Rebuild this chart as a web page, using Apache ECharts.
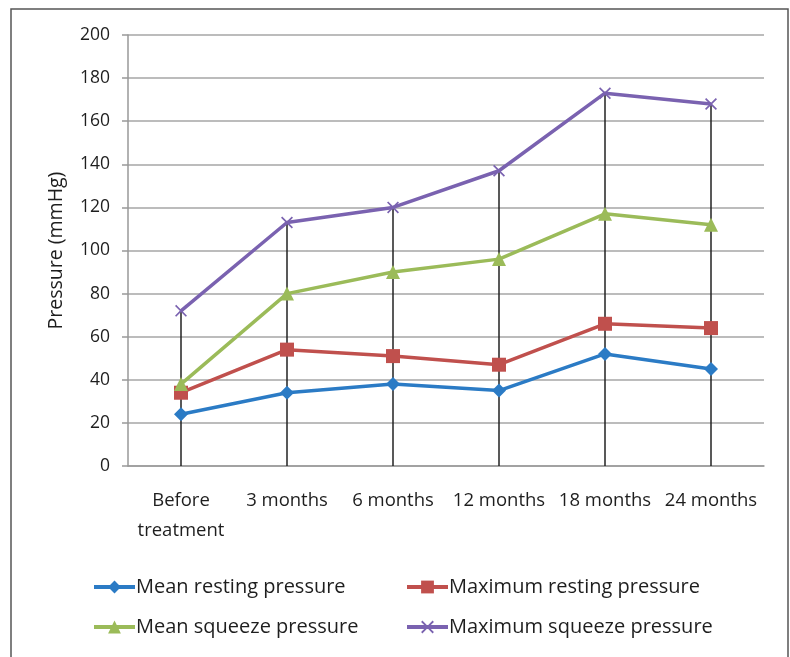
<!DOCTYPE html>
<html>
<head>
<meta charset="utf-8">
<script src="https://cdn.jsdelivr.net/npm/echarts@6/dist/echarts.min.js"></script>
<style>
  html, body { margin: 0; padding: 0; background: #fff; }
  #chart { width: 790px; height: 657px; }
</style>
</head>
<body>
<div id="chart"></div>
<script>
// time points
var categories = ['Before\ntreatment', '3 months', '6 months', '12 months', '18 months', '24 months'];

// pressures, mmHg
var meanResting = [24, 34, 38, 35, 52, 45];
var maxResting = [34, 54, 51, 47, 66, 64];
var meanSqueeze = [38, 80, 90, 96, 117, 112];
var maxSqueeze = [72, 113, 120, 137, 173, 168];

var yTicks = [0, 20, 40, 60, 80, 100, 120, 140, 160, 180, 200];

var font = '"Open Sans", "Noto Sans", sans-serif';
var crossPath = 'path://M0,1L1,0L5,4L9,0L10,1L6,5L10,9L9,10L5,6L1,10L0,9L4,5Z';

var chart = echarts.init(document.getElementById('chart'));

// vertical drop lines from max squeeze down to the axis
var dropLines = maxSqueeze.map(function (v, i) {
  return [{ coord: [i, 0] }, { coord: [i, v] }];
});

function mkSeries(name, data, color, symbol, size) {
  return {
    name: name,
    type: 'line',
    data: data,
    symbol: symbol,
    symbolSize: size,
    showSymbol: true,
    lineStyle: { color: color, width: 3.5 },
    itemStyle: { color: color, borderWidth: 0 },
    z: 3
  };
}

function mkLegend(name, left, top) {
  return {
    data: [name],
    left: left,
    top: top,
    padding: 0,
    itemWidth: 41,
    itemHeight: 16,
    itemGap: 0,
    lineStyle: { width: 4 },
    textStyle: { fontFamily: font, fontSize: 20, color: '#1e1e1e', padding: [0, 0, 0, -4] }
  };
}

var seriesMaxSq = mkSeries('Maximum squeeze pressure', maxSqueeze, '#7a62b0', crossPath, 12);
seriesMaxSq.markLine = {
  silent: true,
  symbol: 'none',
  label: { show: false },
  lineStyle: { color: '#222', width: 1.5, type: 'solid' },
  data: dropLines,
  z: 1
};

var option = {
  animation: false,
  backgroundColor: '#fff',
  graphic: [{
    type: 'rect',
    shape: { x: 11, y: 9, width: 777, height: 700 },
    style: { fill: 'none', stroke: '#555', lineWidth: 1.5 },
    silent: true
  }],
  grid: { left: 128, right: 26, top: 35, bottom: 191 },
  legend: [
    mkLegend('Mean resting pressure', 92, 577),
    mkLegend('Maximum resting pressure', 405, 577),
    mkLegend('Mean squeeze pressure', 92, 617),
    mkLegend('Maximum squeeze pressure', 405, 617)
  ],
  xAxis: {
    type: 'category',
    data: categories,
    boundaryGap: true,
    axisLine: { lineStyle: { color: '#999', width: 1.5 } },
    axisTick: { show: false },
    axisLabel: {
      interval: 0,
      color: '#1e1e1e',
      fontFamily: font,
      fontSize: 18.5,
      lineHeight: 30,
      margin: 20
    }
  },
  yAxis: {
    type: 'value',
    min: 0,
    max: 200,
    interval: 20,
    name: 'Pressure (mmHg)',
    nameLocation: 'middle',
    nameGap: 62,
    nameTextStyle: { fontFamily: font, fontSize: 19.5, color: '#1e1e1e' },
    axisLine: { show: true, lineStyle: { color: '#999', width: 1.5 } },
    axisTick: { show: true, length: 6, lineStyle: { color: '#999', width: 1.5 } },
    axisLabel: {
      color: '#1e1e1e',
      fontFamily: font,
      fontSize: 17.5,
      margin: 18,
      formatter: function (v) { return yTicks.indexOf(v) >= 0 ? String(v) : ''; }
    },
    splitLine: { lineStyle: { color: '#a6a6a6', width: 1.5 } }
  },
  series: [
    mkSeries('Mean resting pressure', meanResting, '#2b7bc5', 'diamond', 14),
    mkSeries('Maximum resting pressure', maxResting, '#c0504d', 'rect', 14),
    mkSeries('Mean squeeze pressure', meanSqueeze, '#9bbb59', 'triangle', 14),
    seriesMaxSq
  ]
};

chart.setOption(option);
</script>
</body>
</html>
